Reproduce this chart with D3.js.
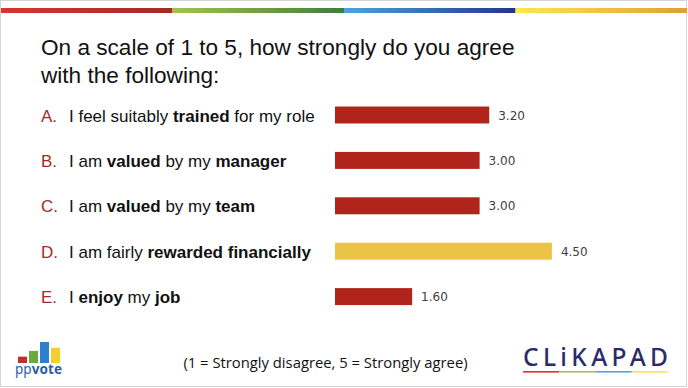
<!DOCTYPE html>
<html>
<head>
<meta charset="utf-8">
<script src="https://cdn.jsdelivr.net/npm/d3@7"></script>
<style>
  body { margin: 0; background: #fff; }
  svg { display: block; }
</style>
</head>
<body>
<svg id="chart"></svg>
<script>
// data
const letters = ['A.', 'B.', 'C.', 'D.', 'E.'];
// each statement split into [text, bold?] pieces
const statements = [
  [['I feel suitably ', false], ['trained', true], [' for my role', false]],
  [['I am ', false], ['valued', true], [' by my ', false], ['manager', true]],
  [['I am ', false], ['valued', true], [' by my ', false], ['team', true]],
  [['I am fairly ', false], ['rewarded financially', true]],
  [['I ', false], ['enjoy', true], [' my ', false], ['job', true]]
];
const scores = [3.20, 3.00, 3.00, 4.50, 1.60];
const highlighted = [false, false, false, true, false];
const titleLines = ['On a scale of 1 to 5, how strongly do you agree', 'with the following:'];
const footnote = '(1 = Strongly disagree, 5 = Strongly agree)';

const stripeColors = [['#dc3330', '#a32a28'], ['#a2c44c', '#3f7c3e'], ['#4ea4de', '#23358a'], ['#fde84c', '#dea032']];
const logoBars = [1.0, 1.9, 3.3, 2.4];
const logoBarColors = ['#c0302a', '#6aa842', '#2e7fcc', '#f2cf2a'];

function buildChart() {
    const width = 688;
    const height = 388;
    const svg = d3.select('#chart').attr('width', width).attr('height', height);

    const defs = svg.append('defs');

    //slide frame
    svg.append('rect')
        .attr('x', 0.5).attr('y', 0.5)
        .attr('width', 686).attr('height', 386)
        .attr('fill', '#fff')
        .attr('stroke', '#d4d4d4');

    //coloured stripe across the top
    const stripeX = d3.scaleBand().domain(d3.range(stripeColors.length)).range([1, 687]);
    stripeColors.forEach((c, i) => {
        const g = defs.append('linearGradient').attr('id', 'stripe' + i);
        g.append('stop').attr('offset', '0%').attr('stop-color', c[0]);
        g.append('stop').attr('offset', '100%').attr('stop-color', c[1]);
    });
    svg.append('g')
        .selectAll('rect')
        .data(stripeColors)
        .enter()
        .append('rect')
        .attr('x', (d, i) => stripeX(i))
        .attr('y', 8)
        .attr('width', stripeX.bandwidth())
        .attr('height', 5)
        .attr('fill', (d, i) => 'url(#stripe' + i + ')');

    //title
    svg.append('g')
        .selectAll('text')
        .data(titleLines)
        .enter()
        .append('text')
        .attr('x', 41)
        .attr('y', (d, i) => 55 + i * 28)
        .attr('font-family', 'Liberation Sans, Arial, sans-serif')
        .attr('font-size', 22.6)
        .attr('fill', '#111')
        .text(d => d);

    //scales
    const x = d3.scaleLinear().domain([0, 5]).range([335, 576]);
    const y = d3.scaleBand()
        .domain(d3.range(scores.length))
        .range([92.3, 319.3])
        .paddingInner(0.626)
        .paddingOuter(0.313);

    //statement labels
    const rows = svg.append('g')
        .selectAll('g')
        .data(statements)
        .enter()
        .append('g');

    rows.append('text')
        .attr('x', 41)
        .attr('y', (d, i) => y(i) + y.bandwidth() / 2 + 6.5)
        .attr('font-family', 'Liberation Sans, Arial, sans-serif')
        .attr('font-size', 17)
        .attr('fill', '#a8282a')
        .text((d, i) => letters[i]);

    rows.append('text')
        .attr('x', 69)
        .attr('y', (d, i) => y(i) + y.bandwidth() / 2 + 6.5)
        .attr('font-family', 'Liberation Sans, Arial, sans-serif')
        .attr('font-size', 17)
        .attr('fill', '#111')
        .selectAll('tspan')
        .data(d => d)
        .enter()
        .append('tspan')
        .attr('font-weight', d => d[1] ? 'bold' : 'normal')
        .style('white-space', 'pre')
        .text(d => d[0]);

    //bars
    svg.append('g')
        .selectAll('rect')
        .data(scores)
        .enter()
        .append('rect')
        .attr('x', x(0))
        .attr('y', (d, i) => y(i))
        .attr('width', d => x(d) - x(0))
        .attr('height', y.bandwidth())
        .attr('fill', (d, i) => highlighted[i] ? '#ecc445' : '#b0241b');

    //value labels
    svg.append('g')
        .selectAll('text')
        .data(scores)
        .enter()
        .append('text')
        .attr('x', d => x(d) + 9)
        .attr('y', (d, i) => y(i) + y.bandwidth() / 2 + 4.5)
        .attr('font-family', 'DejaVu Sans, sans-serif')
        .attr('font-size', 12)
        .attr('fill', '#404040')
        .text(d => d.toFixed(2));

    //footnote
    svg.append('text')
        .attr('x', 325.5)
        .attr('y', 368)
        .attr('text-anchor', 'middle')
        .attr('font-family', 'Open Sans, sans-serif')
        .attr('font-size', 14.8)
        .attr('fill', '#111')
        .text(footnote);

    //ppvote logo
    const logoX = d3.scaleBand().domain(d3.range(logoBars.length)).range([16, 62]).padding(0.18);
    const logoY = d3.scaleLinear().domain([0, 3.3]).range([363, 342]);
    svg.append('g')
        .selectAll('rect')
        .data(logoBars)
        .enter()
        .append('rect')
        .attr('x', (d, i) => logoX(i))
        .attr('y', d => logoY(d))
        .attr('width', logoX.bandwidth())
        .attr('height', d => logoY(0) - logoY(d))
        .attr('fill', (d, i) => logoBarColors[i]);
    const pp = svg.append('text')
        .attr('x', 15)
        .attr('y', 374)
        .attr('textLength', 47)
        .attr('font-family', 'Noto Sans, sans-serif')
        .attr('font-size', 13.5)
        .attr('fill', '#2b5caa');
    pp.append('tspan').text('pp');
    pp.append('tspan').attr('font-weight', 'bold').text('vote');

    //clikapad logo
    svg.append('text')
        .attr('x', 523)
        .attr('y', 366)
        .attr('textLength', 145)
        .attr('lengthAdjust', 'spacing')
        .attr('font-family', 'Noto Sans, sans-serif')
        .attr('font-size', 24.5)
        .attr('font-weight', 500)
        .attr('fill', '#2b2b6b')
        .text('CLiKAPAD');
    const lineX = d3.scaleBand().domain(d3.range(stripeColors.length)).range([523, 668]);
    svg.append('g')
        .selectAll('rect')
        .data(stripeColors)
        .enter()
        .append('rect')
        .attr('x', (d, i) => lineX(i))
        .attr('y', 371)
        .attr('width', lineX.bandwidth())
        .attr('height', 1.6)
        .attr('fill', d => d[0]);
}

buildChart();
</script>
</body>
</html>
